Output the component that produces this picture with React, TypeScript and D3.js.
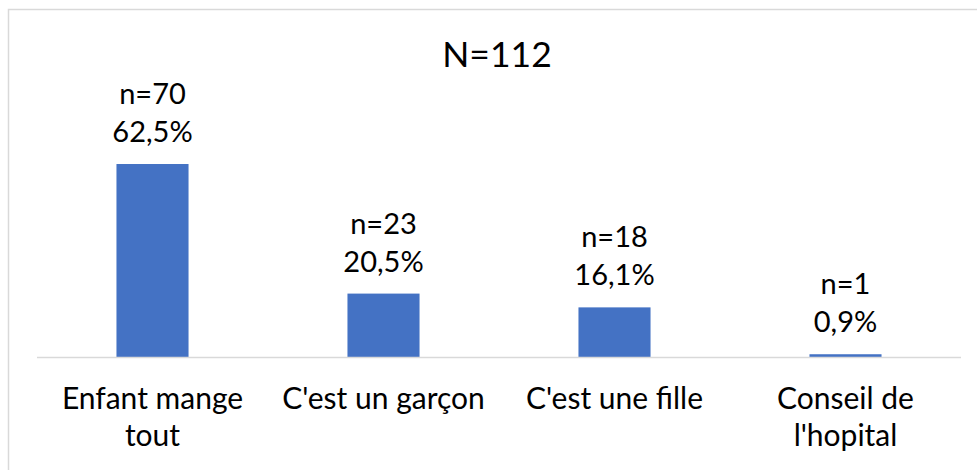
import React from "react";
import * as d3 from "d3";

const title = "N=112";
const categories = ["Enfant mange tout", "C'est un garçon", "C'est une fille", "Conseil de l'hopital"];
const counts = [70, 23, 18, 1];
const percents = ["62,5%", "20,5%", "16,1%", "0,9%"];
const yMax = 80;

const W = 977;
const H = 470;
const FONT = "Lato, 'Open Sans', sans-serif";

function wrap(text: string, maxW: number, font: string): string[] {
  const c = document.createElement("canvas").getContext("2d")!;
  c.font = font;
  const words = text.split(" ");
  const lines: string[] = [];
  let cur = "";
  for (const w of words) {
    const t = cur ? cur + " " + w : w;
    if (c.measureText(t).width > maxW && cur) {
      lines.push(cur);
      cur = w;
    } else cur = t;
  }
  if (cur) lines.push(cur);
  return lines;
}

export default function App() {
  const plotLeft = 37;
  const plotRight = 961;
  const baseY = 357;
  const x = d3.scaleBand<string>().domain(categories).range([plotLeft, plotRight]).padding(0);
  const y = d3.scaleLinear().domain([0, yMax]).range([baseY, baseY - yMax * 2.757]);
  const barW = x.bandwidth() * 0.312;

  return (
    <svg
      width={W}
      height={H}
      style={{ position: "absolute", left: 0, top: 0, display: "block", background: "#fff" }}
      fontFamily={FONT}
    >
      <rect x={8.5} y={9.5} width={1000} height={1000} fill="#fff" stroke="#d9d9d9" strokeWidth={1.5} />
      <text x={497} y={67} textAnchor="middle" fontSize={35.5} fill="#000">
        {title}
      </text>
      {categories.map((c, i) => {
        const cx = x(c)! + x.bandwidth() / 2;
        const top = y(counts[i]);
        return (
          <g key={c}>
            <rect x={cx - barW / 2} y={top} width={barW} height={baseY - top} fill="#4472C4" />
            <text x={cx} y={top - 60} textAnchor="middle" fontSize={29} fill="#000">
              {"n=" + counts[i]}
            </text>
            <text x={cx} y={top - 22} textAnchor="middle" fontSize={29} fill="#000">
              {percents[i]}
            </text>
          </g>
        );
      })}
      <line x1={plotLeft} x2={plotRight} y1={baseY + 0.5} y2={baseY + 0.5} stroke="#d9d9d9" strokeWidth={1.5} />
      {categories.map((c) => {
        const cx = x(c)! + x.bandwidth() / 2;
        const lines = wrap(c, 220, `30px ${FONT}`);
        return (
          <text key={c} x={cx} textAnchor="middle" fontSize={30} fill="#000">
            {lines.map((l, j) => (
              <tspan key={j} x={cx} y={409 + j * 37}>
                {l}
              </tspan>
            ))}
          </text>
        );
      })}
    </svg>
  );
}
